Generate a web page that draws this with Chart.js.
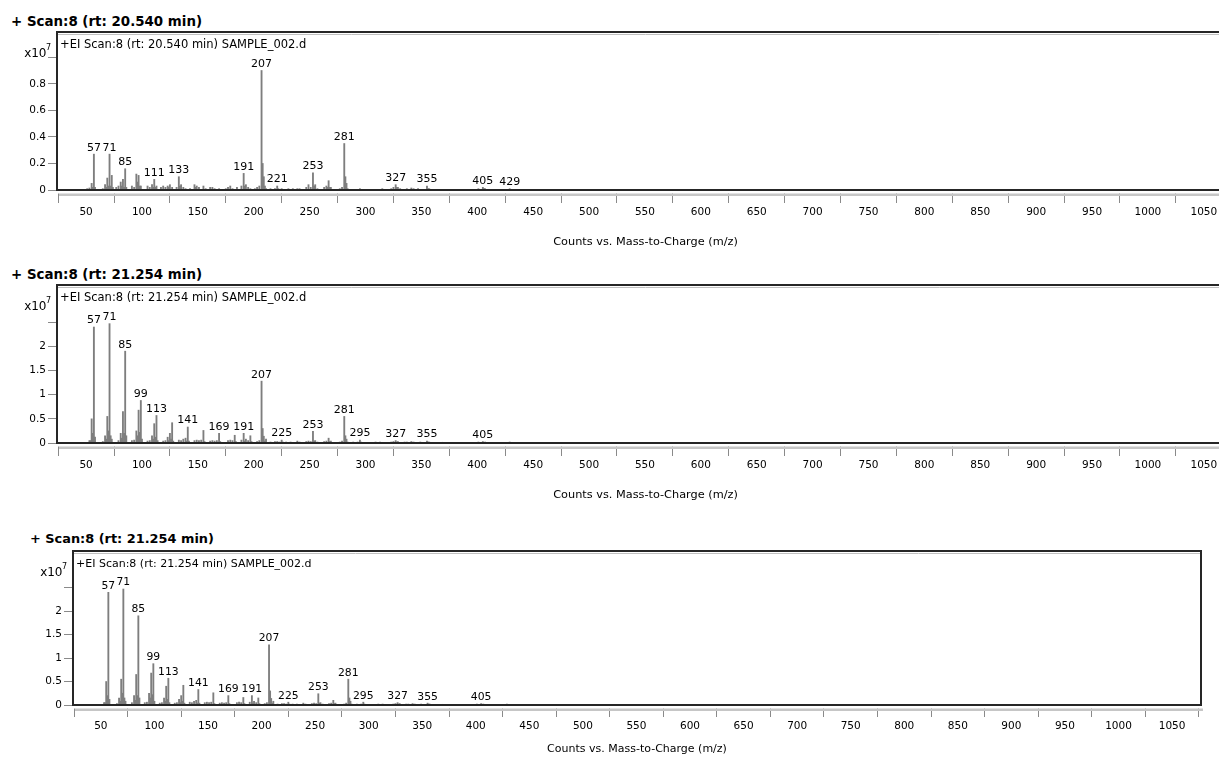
<!DOCTYPE html>
<html><head><meta charset="utf-8">
<script src="https://cdn.jsdelivr.net/npm/chart.js@4"></script>
<style>
html,body{margin:0;padding:0;background:#fff;overflow:hidden;width:1219px;height:757px;position:relative;}
canvas{position:absolute;}
.ttl{position:absolute;font:bold 13.4px 'DejaVu Sans',sans-serif;color:#000;white-space:nowrap;line-height:16px;}
</style></head><body>
<div class="ttl" style="left:11px;top:14px">+ Scan:8 (rt: 20.540 min)</div>
<div class="ttl" style="left:11px;top:267px">+ Scan:8 (rt: 21.254 min)</div>
<div class="ttl" style="left:30px;top:531px;font-size:12.9px">+ Scan:8 (rt: 21.254 min)</div>
<canvas id="c1" width="1238" height="249" style="left:0;top:0"></canvas>
<canvas id="c2" width="1238" height="249" style="left:0;top:253px"></canvas>
<canvas id="c3" width="1204" height="236" style="left:0;top:520px"></canvas>
<script>
// ---- Data (intensities in units of 10^7 counts) ----
const mz1 = [51,53,55,56,57,58,65,67,68,69,70,71,72,73,74,77,79,81,82,83,84,85,86,91,93,95,96,97,98,99,105,107,109,110,111,112,113,117,119,121,123,124,125,127,131,133,134,135,137,139,143,147,148,149,151,155,157,161,163,165,169,175,177,179,181,185,189,191,192,193,195,197,201,203,205,207,208,209,210,211,215,219,221,222,225,231,235,239,241,247,249,251,253,254,255,257,263,265,266,267,268,269,277,279,281,282,283,284,295,299,311,315,323,325,327,328,329,331,337,341,343,347,355,356,357,369,373,377,381,387,391,401,405,406,407,415,421,429,431,443,451,461,467,479,503];
const int1 = [0.01,0.015,0.05,0.02,0.27,0.02,0.01,0.04,0.02,0.09,0.03,0.27,0.03,0.11,0.02,0.02,0.03,0.06,0.03,0.08,0.02,0.16,0.02,0.03,0.02,0.12,0.06,0.11,0.03,0.03,0.03,0.02,0.04,0.02,0.08,0.02,0.03,0.02,0.03,0.02,0.03,0.02,0.04,0.02,0.02,0.10,0.03,0.04,0.02,0.01,0.01,0.04,0.02,0.03,0.02,0.03,0.01,0.02,0.02,0.01,0.01,0.01,0.02,0.03,0.01,0.02,0.03,0.125,0.03,0.04,0.02,0.01,0.01,0.02,0.03,0.90,0.20,0.10,0.03,0.01,0.01,0.01,0.03,0.01,0.01,0.01,0.01,0.01,0.01,0.02,0.04,0.02,0.13,0.03,0.04,0.01,0.02,0.03,0.02,0.07,0.02,0.02,0.01,0.02,0.35,0.10,0.05,0.01,0.01,0.005,0.005,0.01,0.01,0.02,0.04,0.02,0.02,0.01,0.01,0.015,0.01,0.01,0.03,0.01,0.01,0.005,0.005,0.005,0.005,0.005,0.005,0.01,0.02,0.01,0.01,0.005,0.005,0.01,0.005,0.005,0.005,0.005,0.005,0.005,0.005];
const peaks1 = [57,71,85,111,133,191,207,221,253,281,327,355,405,429];

const mz2 = [53,54,55,56,57,58,65,67,68,69,70,71,72,73,79,81,82,83,84,85,86,91,93,95,96,97,98,99,100,105,107,109,110,111,112,113,114,119,121,123,124,125,126,127,128,133,135,137,139,140,141,142,147,149,151,153,155,156,161,163,165,167,169,170,177,179,181,183,184,189,191,192,193,195,197,198,203,205,207,208,209,210,211,215,219,221,223,225,226,229,233,239,241,247,249,251,253,254,255,257,263,265,267,268,269,277,279,281,282,283,284,289,293,295,296,309,313,323,325,327,328,329,335,337,341,343,349,355,356,357,365,369,373,379,387,393,401,405,406,407,415,421,429,431,441,457,479,503];
const int2 = [0.05,0.05,0.50,0.20,2.40,0.12,0.03,0.15,0.08,0.55,0.25,2.47,0.15,0.08,0.05,0.20,0.10,0.65,0.20,1.90,0.15,0.05,0.06,0.25,0.15,0.68,0.22,0.88,0.08,0.04,0.05,0.15,0.08,0.40,0.12,0.57,0.05,0.04,0.05,0.12,0.05,0.20,0.08,0.42,0.04,0.06,0.05,0.08,0.10,0.04,0.33,0.04,0.05,0.06,0.05,0.06,0.26,0.03,0.04,0.05,0.04,0.05,0.20,0.03,0.05,0.06,0.05,0.16,0.03,0.06,0.20,0.04,0.08,0.05,0.15,0.03,0.03,0.05,1.28,0.30,0.14,0.04,0.08,0.02,0.03,0.03,0.02,0.06,0.02,0.02,0.02,0.04,0.02,0.03,0.04,0.03,0.24,0.04,0.05,0.02,0.03,0.04,0.10,0.03,0.04,0.02,0.04,0.55,0.15,0.08,0.02,0.02,0.02,0.06,0.02,0.02,0.02,0.02,0.03,0.05,0.02,0.03,0.02,0.02,0.03,0.02,0.02,0.04,0.02,0.02,0.01,0.015,0.01,0.01,0.01,0.01,0.02,0.03,0.01,0.02,0.01,0.01,0.02,0.01,0.01,0.01,0.01,0.01];
const peaks2 = [57,71,85,99,113,141,169,191,207,225,253,281,295,327,355,405];

const xTicks = [50,100,150,200,250,300,350,400,450,500,550,600,650,700,750,800,850,900,950,1000,1050];
const yTicks1 = [0,0.2,0.4,0.6,0.8,1];
const yTickLabels1 = ['0','0.2','0.4','0.6','0.8',''];
const yTicks2 = [0,0.5,1,1.5,2,2.5];
const yTickLabels2 = ['0','0.5','1','1.5','2',''];
const innerTitle1 = '+EI Scan:8 (rt: 20.540 min) SAMPLE_002.d';
const innerTitle2 = '+EI Scan:8 (rt: 21.254 min) SAMPLE_002.d';
const xTitle = 'Counts vs. Mass-to-Charge (m/z)';
const yExponent = '7';

const FONT = "'DejaVu Sans', sans-serif";

const framePlugin = {
  id: 'frame',
  afterDraw(chart, args, o) {
    const {ctx, chartArea: a, scales: {x, y}} = chart;
    ctx.save();
    // gap + gray axis band under the box
    ctx.fillStyle = '#fff';
    ctx.fillRect(a.left, a.bottom + 1, a.right - a.left + 3, 2.5);
    ctx.fillStyle = '#c6c6c6';
    ctx.fillRect(a.left + 2, a.bottom + 3.5, a.right - a.left, 2.5);
    // inner light line at top
    ctx.strokeStyle = '#c0c0c0'; ctx.lineWidth = 1;
    ctx.beginPath(); ctx.moveTo(a.left + 1, a.top + 2.5); ctx.lineTo(a.right - 1, a.top + 2.5); ctx.stroke();
    // dark frame
    ctx.strokeStyle = '#262626'; ctx.lineWidth = 2;
    ctx.strokeRect(a.left, a.top, a.right - a.left, a.bottom - a.top);
    // inner title
    ctx.fillStyle = '#000';
    ctx.font = o.innerSize + 'px ' + FONT;
    ctx.textBaseline = 'middle'; ctx.textAlign = 'left';
    ctx.fillText(o.inner, a.left + 3, a.top + 13);
    // exponent label
    ctx.textBaseline = 'alphabetic'; ctx.textAlign = 'right';
    ctx.font = '8px ' + FONT;
    ctx.fillText(o.exp, a.left - 6, a.top + 18);
    ctx.font = '12px ' + FONT;
    ctx.fillText('x10', a.left - 10.5, a.top + 25);
    // peak labels
    ctx.font = o.labelSize + 'px ' + FONT;
    ctx.textAlign = 'center'; ctx.textBaseline = 'bottom';
    o.peaks.forEach(m => {
      const i = o.mz.indexOf(m);
      if (i < 0) return;
      const px = x.getPixelForValue(m);
      const py = y.getPixelForValue(o.inten[i]);
      ctx.fillText(String(m), px, py - 1);
    });
    ctx.restore();
  }
};

function makeChart(id, mz, inten, peaks, yT, yTL, yMax, inner, g) {
  const ctx = document.getElementById(id);
  return new Chart(ctx, {
    type: 'bar',
    data: {
      datasets: [{
        data: mz.map((m, i) => ({x: m, y: inten[i]})),
        backgroundColor: '#7e7e7e',
        borderWidth: 0,
        barThickness: 1.2,
        categoryPercentage: 1, barPercentage: 1
      }]
    },
    plugins: [framePlugin],
    options: {
      responsive: false, animation: false, events: [],
      layout: {padding: {top: g.top, right: g.right, left: 0, bottom: 0}},
      plugins: {
        legend: {display: false}, tooltip: {enabled: false},
        frame: {inner: inner, exp: yExponent, peaks: peaks, mz: mz, inten: inten,
                innerSize: g.innerSize, labelSize: g.labelSize}
      },
      scales: {
        x: {
          type: 'linear', min: 24, max: 1077, offset: false,
          afterBuildTicks: s => { s.ticks = xTicks.map(v => ({value: v})); },
          afterFit: s => { s.height = g.xH; },
          ticks: {autoSkip: false, maxRotation: 0, padding: g.xPad, color: '#000',
                  font: {family: FONT, size: g.tickSize}, callback: v => String(v)},
          grid: {display: true, drawOnChartArea: false, drawTicks: true, tickLength: g.tickLen, tickColor: '#8a8a8a', tickWidth: 1},
          border: {display: false},
          title: {display: true, text: xTitle, color: '#000', padding: 0, font: {family: FONT, size: g.titleSize}}
        },
        y: {
          type: 'linear', min: 0, max: yMax,
          afterBuildTicks: s => { s.ticks = yT.map(v => ({value: v})); },
          afterFit: s => { s.width = g.left; },
          ticks: {padding: 2, color: '#000', font: {family: FONT, size: g.tickSize},
                  callback: (v) => { const i = yT.indexOf(v); return i >= 0 ? yTL[i] : ''; }},
          grid: {display: true, drawOnChartArea: false, drawTicks: true, tickLength: 9, tickColor: '#8a8a8a'},
          border: {display: false}
        }
      }
    }
  });
}

const g12 = {top: 32, right: 4, left: 57, xH: 59, tickLen: 13, xPad: 3, tickSize: 10.5, labelSize: 11, innerSize: 11.5, titleSize: 11.3};
const g3 = {top: 31, right: 3, left: 73, xH: 51, tickLen: 12, xPad: 3, tickSize: 10.5, labelSize: 10.8, innerSize: 11, titleSize: 11};

makeChart('c1', mz1, int1, peaks1, yTicks1, yTickLabels1, 1.19, innerTitle1, g12);
makeChart('c2', mz2, int2, peaks2, yTicks2, yTickLabels2, 3.27, innerTitle2, g12);
makeChart('c3', mz2, int2, peaks2, yTicks2, yTickLabels2, 3.28, innerTitle2, g3);
</script>
</body></html>
